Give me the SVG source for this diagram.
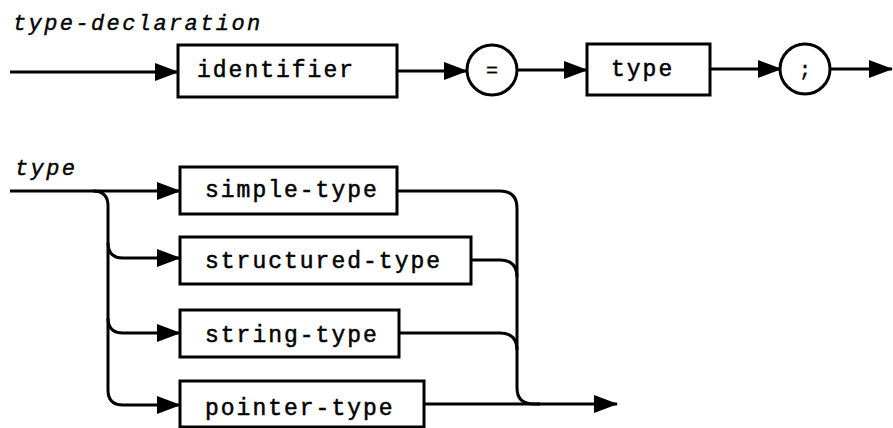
<svg xmlns="http://www.w3.org/2000/svg" width="893" height="428" viewBox="0 0 893 428">
<style>
.box{fill:#fff;stroke:#000;stroke-width:3}
.ln{fill:none;stroke:#000;stroke-width:3}
.t{font-family:"Liberation Mono","Courier New",monospace;font-size:23px;letter-spacing:2px;fill:#000;stroke:#000;stroke-width:0.5}
.ti{font-family:"Liberation Mono","Courier New",monospace;font-size:22px;letter-spacing:2.4px;font-style:italic;fill:#000;stroke:#000;stroke-width:0.4}
.c{font-family:"Liberation Mono","Courier New",monospace;font-size:20px;fill:#000;text-anchor:middle;stroke:#000;stroke-width:0.4}
</style>
<defs>
<marker id="ah" markerUnits="userSpaceOnUse" viewBox="0 0 24 18" refX="23" refY="9" markerWidth="24" markerHeight="18" orient="auto">
<path d="M0,0 L24,9 L0,18 Z" fill="#000"/>
</marker>
</defs>
<text class="ti" x="13" y="30">type-declaration</text>
<text class="ti" x="15" y="175">type</text>
<g id="connectors">
<path class="ln" d="M10,72 L178,72" marker-end="url(#ah)"/>
<path class="ln" d="M397,71 L467,71" marker-end="url(#ah)"/>
<path class="ln" d="M517,70 L587,70" marker-end="url(#ah)"/>
<path class="ln" d="M710,69 L781,69" marker-end="url(#ah)"/>
<path class="ln" d="M830,69 L892,69" marker-end="url(#ah)"/>
<path class="ln" d="M10,191 L180,191" marker-end="url(#ah)"/>
<path class="ln" d="M93,191 Q108,191 108,206 L108,390 Q108,405 123,405 L180,405" marker-end="url(#ah)"/>
<path class="ln" d="M108,243 Q108,258 123,258 L180,258" marker-end="url(#ah)"/>
<path class="ln" d="M108,318 Q108,333 123,333 L180,333" marker-end="url(#ah)"/>
<path class="ln" d="M397,191 L500,191 Q517,191 517,208 L517,388 Q517,404 534,404 L617,404" marker-end="url(#ah)"/>
<path class="ln" d="M471,260 L500,260 Q517,260 517,277"/>
<path class="ln" d="M399,333 L500,333 Q517,333 517,350"/>
<path class="ln" d="M424,404 L540,404"/>
</g>
<g id="identifier"><rect class="box" x="178" y="45" width="219" height="52"/><text class="t" x="197" y="77">identifier</text></g>
<g id="equals"><circle class="box" cx="492" cy="70" r="25"/><text class="c" x="492" y="77">=</text></g>
<g id="type-ref"><rect class="box" x="587" y="44" width="123" height="51"/><text class="t" x="611" y="76">type</text></g>
<g id="semicolon"><circle class="box" cx="805" cy="69" r="25"/><text class="c" x="805" y="76">;</text></g>
<g id="simple-type"><rect class="box" x="180" y="167" width="217" height="47"/><text class="t" x="205" y="197">simple-type</text></g>
<g id="structured-type"><rect class="box" x="180" y="237" width="291" height="47"/><text class="t" x="205" y="268">structured-type</text></g>
<g id="string-type"><rect class="box" x="180" y="310" width="219" height="47"/><text class="t" x="205" y="342">string-type</text></g>
<g id="pointer-type"><rect class="box" x="180" y="381" width="244" height="46"/><text class="t" x="205" y="415">pointer-type</text></g>
</svg>
